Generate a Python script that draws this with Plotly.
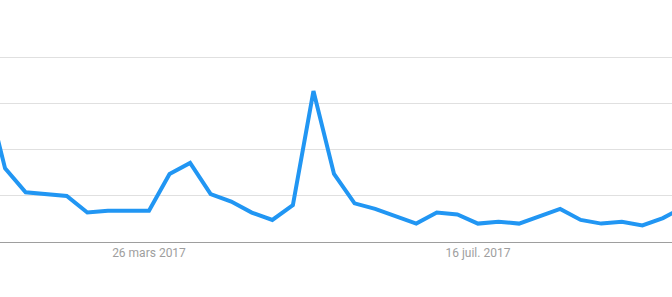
import plotly.graph_objects as go

dates = ["2017-01-29", "2017-02-05", "2017-02-12", "2017-02-19", "2017-02-26",
         "2017-03-05", "2017-03-12", "2017-03-19", "2017-03-26", "2017-04-02",
         "2017-04-09", "2017-04-16", "2017-04-23", "2017-04-30", "2017-05-07",
         "2017-05-14", "2017-05-21", "2017-05-28", "2017-06-04", "2017-06-11",
         "2017-06-18", "2017-06-25", "2017-07-02", "2017-07-09", "2017-07-16",
         "2017-07-23", "2017-07-30", "2017-08-06", "2017-08-13", "2017-08-20",
         "2017-08-27", "2017-09-03", "2017-09-10", "2017-09-17", "2017-09-24"]
values = [85, 40, 27, 26, 25,
          16, 17, 17, 17, 37,
          43, 26, 22, 16, 12,
          20, 82, 37, 21, 18,
          14, 10, 16, 15, 10,
          11, 10, 14, 18, 12,
          10, 11, 9, 13, 19]

tick_dates = ["2017-03-26", "2017-07-16"]
tick_labels = ["26 mars 2017", "16 juil. 2017"]
grid_vals = [25, 50, 75, 100]

fig = go.Figure()
fig.add_trace(go.Scatter(
    x=dates, y=values, mode="lines",
    line=dict(color="#2196f3", width=4),
    hoverinfo="skip", showlegend=False,
))

fig.update_layout(
    width=672, height=297,
    margin=dict(l=0, r=0, t=0, b=55),
    paper_bgcolor="white", plot_bgcolor="white",
    font=dict(family="Roboto", size=12, color="#9e9e9e"),
    showlegend=False,
)
fig.update_xaxes(
    type="date",
    range=["2017-02-03 06:30", "2017-09-20 02:00"],
    tickvals=tick_dates, ticktext=tick_labels,
    showgrid=False, zeroline=False,
    showline=True, linecolor="#9e9e9e", linewidth=1,
    ticks="", tickfont=dict(family="Roboto", size=12, color="#9e9e9e"),
    fixedrange=True,
)
fig.update_yaxes(
    range=[0, 131.5],
    tickvals=grid_vals, showticklabels=False,
    showgrid=True, gridcolor="#e0e0e0", gridwidth=1,
    zeroline=False, showline=False, ticks="",
    fixedrange=True,
)

fig.write_html("out.html", config={"displayModeBar": False})
